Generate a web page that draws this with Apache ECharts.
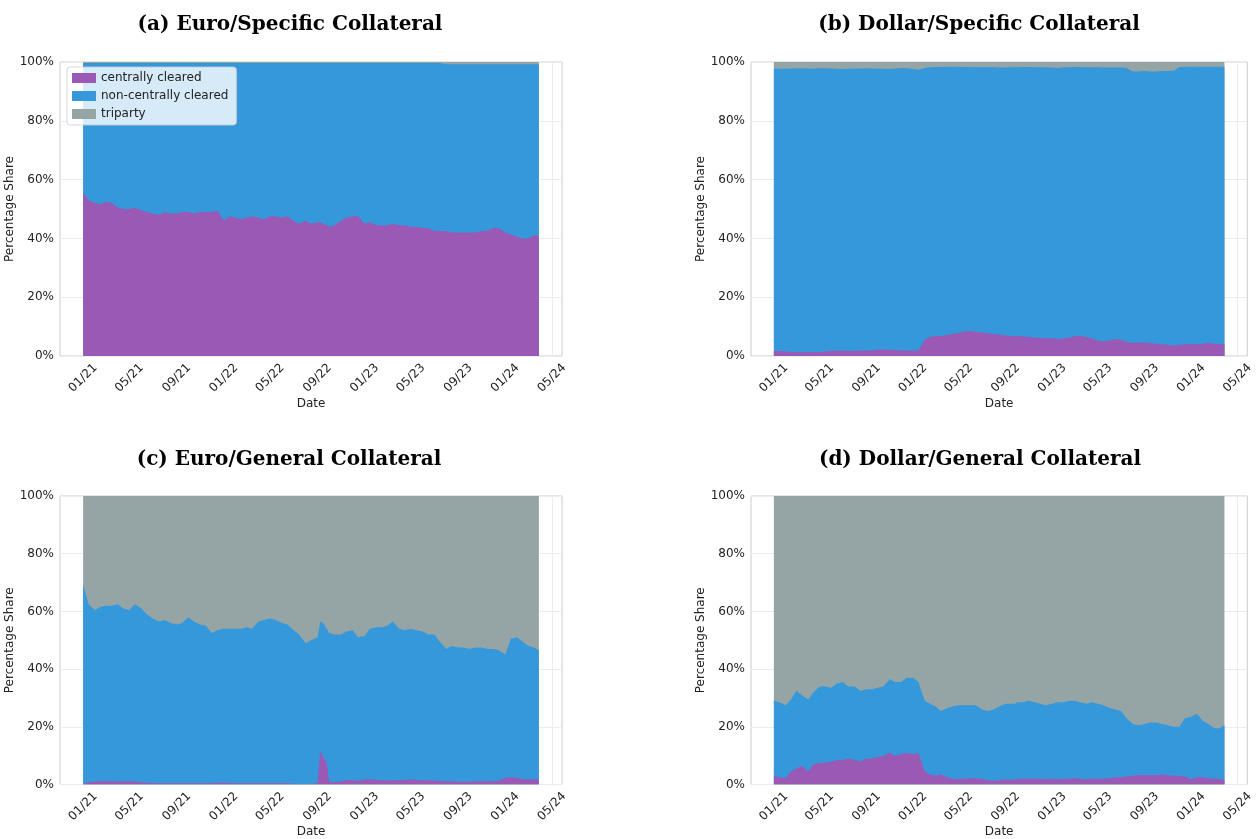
<!DOCTYPE html>
<html>
<head>
<meta charset="utf-8">
<script src="https://cdn.jsdelivr.net/npm/echarts@6/dist/echarts.min.js"></script>
<style>
  html, body { margin: 0; padding: 0; background: #fff; }
  #chart { width: 1256px; height: 839px; }
</style>
</head>
<body>
<div id="chart"></div>
<script>
// semi-monthly sample dates, shared by all four panels
const dates = [
  '2021-01-01','2021-01-15','2021-02-01','2021-02-15','2021-03-01','2021-03-15','2021-04-01','2021-04-15',
  '2021-05-01','2021-05-15','2021-06-01','2021-06-15','2021-07-01','2021-07-15','2021-08-01','2021-08-15',
  '2021-09-01','2021-09-15','2021-10-01','2021-10-15','2021-11-01','2021-11-15','2021-12-01','2021-12-15',
  '2022-01-01','2022-01-15','2022-02-01','2022-02-15','2022-03-01','2022-03-15','2022-04-01','2022-04-15',
  '2022-05-01','2022-05-15','2022-06-01','2022-06-15','2022-07-01','2022-07-15','2022-08-01','2022-08-15',
  '2022-09-01','2022-09-08','2022-09-15','2022-09-25','2022-10-01','2022-10-15','2022-11-01','2022-11-15',
  '2022-12-01','2022-12-15',
  '2023-01-01','2023-01-15','2023-02-01','2023-02-15','2023-03-01','2023-03-15','2023-04-01','2023-04-15',
  '2023-05-01','2023-05-15','2023-06-01','2023-06-15','2023-07-01','2023-07-15','2023-08-01','2023-08-15',
  '2023-09-01','2023-09-15','2023-10-01','2023-10-15','2023-11-01','2023-11-15','2023-12-01','2023-12-15',
  '2024-01-01','2024-01-15','2024-02-01','2024-02-15','2024-03-01','2024-03-15','2024-03-28'
]

const tickDates = ['2021-01-01','2021-05-01','2021-09-01','2022-01-01','2022-05-01','2022-09-01',
  '2023-01-01','2023-05-01','2023-09-01','2024-01-01','2024-05-01']
const tickLabels = ['01/21','05/21','09/21','01/22','05/22','09/22','01/23','05/23','09/23','01/24','05/24']

const seriesNames = ['centrally cleared', 'non-centrally cleared', 'triparty']
const titles = ['(a) Euro/Specific Collateral', '(b) Dollar/Specific Collateral',
  '(c) Euro/General Collateral', '(d) Dollar/General Collateral']

// cumulative shares (%):
//   *CC  = top of the purple band (centrally cleared)
//   *Top = top of the blue band (centrally + non-centrally cleared); triparty fills the rest up to 100%
const euroSpecCC = [
  55.5,53,52,51.5,52.5,52,50.5,50,50,50.5,49.5,49,48.5,48,49,48.5,48.5,49,49,48.5,49,49,49,49.5,
  46,47.5,47,46.5,47,47.5,47,46.5,47.5,47.5,47,47.5,46,45,46,45,45.5,45.5,45,44.5,44,44.5,46,47,47.5,47.5,
  45,45.5,44.5,44.5,44.5,45,44.5,44.5,44,44,43.5,43.5,42.5,42.5,42.5,42,42,42,42,42,42.5,42.5,43.5,43.5,
  42,41.5,40.5,40,40,41,41
]
const euroSpecTop = [
  99.7,99.7,99.7,99.7,99.7,99.7,99.7,99.7,99.7,99.7,99.7,99.7,99.7,99.7,99.7,99.7,99.7,99.7,99.7,99.7,99.7,99.7,99.7,99.7,
  99.7,99.7,99.7,99.7,99.7,99.7,99.7,99.7,99.7,99.7,99.7,99.7,99.7,99.7,99.7,99.7,99.7,99.7,99.7,99.7,99.7,99.7,99.7,99.7,99.7,99.7,
  99.7,99.7,99.7,99.7,99.7,99.7,99.7,99.7,99.7,99.7,99.7,99.7,99.7,99.7,99.2,99.2,99.2,99.2,99.2,99.2,99.2,99.2,99.2,99.2,
  99.2,99.2,99.2,99.2,99.2,99.2,99.2
]

const dollarSpecCC = [
  1.8,1.7,1.5,1.4,1.3,1.3,1.3,1.4,1.4,1.5,1.8,1.8,1.8,1.7,1.8,1.8,1.9,1.9,2.1,2.2,2.1,2.0,1.9,1.9,
  1.9,1.9,5.5,6.5,6.8,6.8,7.2,7.5,7.8,8.3,8.5,8.2,8.0,7.8,7.5,7.3,7.0,7.0,6.8,6.8,6.8,6.7,6.5,6.3,6.2,6.0,
  6.0,5.8,6.0,6.2,6.8,6.9,6.5,6.0,5.2,5.0,5.3,5.8,5.5,4.8,4.5,4.6,4.6,4.4,4.2,4.0,3.8,3.6,3.8,4.0,
  4.1,4.0,4.2,4.5,4.2,4.0,4.0
]
const dollarSpecTop = [
  97.8,97.7,97.8,97.8,97.9,97.9,97.8,97.8,97.9,97.9,97.8,97.7,97.6,97.7,97.8,97.8,97.9,97.8,97.8,97.7,97.6,97.8,98.0,97.9,
  97.6,97.4,98.0,98.2,98.3,98.3,98.4,98.4,98.3,98.3,98.3,98.2,98.2,98.2,98.2,98.1,98.1,98.1,98.2,98.2,98.2,98.3,98.3,98.2,98.2,98.2,
  98.1,98.0,98.2,98.2,98.3,98.3,98.2,98.2,98.2,98.1,98.1,98.1,98.1,98.0,96.8,96.8,96.9,96.8,96.8,96.9,96.9,97.0,98.3,98.3,
  98.4,98.4,98.4,98.3,98.4,98.4,98.4
]

const euroGenCC = [
  0.3,0.8,1.0,1.1,1.1,1.0,1.0,1.0,1.1,1.0,0.8,0.6,0.5,0.4,0.4,0.4,0.4,0.4,0.4,0.4,0.4,0.4,0.5,0.6,
  0.6,0.5,0.4,0.4,0.4,0.4,0.4,0.4,0.4,0.4,0.4,0.4,0.3,0.2,0.2,0.3,0.4,12.0,9.5,7.5,1.0,0.9,1.0,1.6,1.5,1.2,
  1.7,1.8,1.6,1.5,1.5,1.5,1.5,1.6,1.8,1.6,1.5,1.5,1.4,1.2,1.1,1.0,1.0,0.9,1.0,1.0,1.1,1.1,1.2,1.3,
  2.3,2.5,2.3,1.8,1.8,1.8,1.7
]
const euroGenTop = [
  69.5,62.5,60.5,61.5,62,62,62.5,61,60.5,62.5,61,59,57.5,56.5,57,56,55.5,56,58,56.5,55.5,55,52.5,53.5,
  54,54,54,54,54.5,54,56.5,57,57.5,57,56,55.5,53.5,52,49,50,51,56.5,56,54,52.5,52,52,53,53.5,51,
  51.5,54,54.5,54.5,55,56.5,54,53.5,54,53.5,53,52,52,49.5,47,48,47.5,47.5,47,47.5,47.5,47,47,46.5,
  45,50.5,51,49.5,48,47.5,46.5
]

const dollarGenCC = [
  3.0,2.5,2.2,4.5,5.5,6.5,4.5,7.0,7.5,7.5,8.0,8.5,8.5,9.0,8.5,8.0,9.0,9.0,9.5,10.0,11.0,10.0,10.5,11.0,
  10.5,11.0,4.5,3.5,3.0,3.5,2.5,2.0,1.8,2.0,2.2,2.2,2.0,1.5,1.3,1.5,1.8,1.5,1.8,1.5,2.0,2.0,2.0,2.0,2.0,1.8,
  2.0,1.8,2.0,2.0,2.2,2.0,1.8,2.0,2.0,2.0,2.2,2.5,2.5,2.8,3.0,3.2,3.3,3.2,3.2,3.5,3.2,3.0,3.0,2.8,
  1.8,2.5,2.5,2.2,2.0,2.0,1.5
]
const dollarGenTop = [
  29,28.5,27.5,29.5,32.5,31,29.5,32,34,34,33.5,35,35.5,34,34,32.5,33,33,33.5,34,36.5,35.5,35.5,37,
  37,35.5,29,28,27,25.5,26.5,27,27.5,27.5,27.5,27.5,26,25.5,26,27,28,28,28,28,28.5,28.5,29,28.5,28,27.5,
  28,28.5,28.5,29,29,28.5,28,28.5,28,27.5,26.5,26,25.5,23,21,20.5,21,21.5,21.5,21,20.5,20,20,23,
  23.5,24.5,22,21,19.5,19.5,20.5
]

const colors = ['#9b59b6', '#3498db', '#95a5a6']
const panels = [
  { cc: euroSpecCC, top: euroSpecTop, left: 60, top0: 62, titleX: 290, titleY: 25 },
  { cc: dollarSpecCC, top: dollarSpecTop, left: 751, top0: 62, titleX: 979, titleY: 25 },
  { cc: euroGenCC, top: euroGenTop, left: 60, top0: 496, titleX: 289, titleY: 460 },
  { cc: dollarGenCC, top: dollarGenTop, left: 751, top0: 496, titleX: 980, titleY: 460 }
]

// dates -> epoch ms, x axis is a plain value axis so the custom month ticks work
const t = s => new Date(s + 'T00:00:00Z').getTime()
const tickValues = tickDates.map(t)
const labelFont = 'DejaVu Sans'

const chart = echarts.init(document.getElementById('chart'))

const grid = [], xAxis = [], yAxis = [], series = [], graphic = []
panels.forEach((p, i) => {
  grid.push({
    left: p.left, top: p.top0, width: 502, height: 294,
    show: true, borderColor: '#cccccc', borderWidth: 1, backgroundColor: 'transparent'
  })
  xAxis.push({
    type: 'value', gridIndex: i, scale: true,
    min: t('2020-11-02'), max: t('2024-05-27'),
    name: 'Date', nameLocation: 'middle', nameGap: 38,
    nameTextStyle: { fontFamily: labelFont, fontSize: 12, color: '#222' },
    axisLine: { show: false },
    axisTick: { show: false, customValues: tickValues },
    axisLabel: {
      customValues: tickValues, rotate: 45, align: 'center', verticalAlign: 'middle', margin: 22,
      fontFamily: labelFont, fontSize: 12, color: '#222',
      formatter: v => tickLabels[tickValues.indexOf(v)] || ''
    },
    splitLine: { show: true, lineStyle: { color: '#ececec', width: 1 } }
  })
  yAxis.push({
    type: 'value', gridIndex: i, min: 0, max: 100, interval: 20,
    name: 'Percentage Share', nameLocation: 'middle', nameGap: 37,
    nameTextStyle: { fontFamily: labelFont, fontSize: 12, color: '#222' },
    axisLine: { show: false }, axisTick: { show: false },
    axisLabel: { formatter: '{value}%', margin: 6, fontFamily: labelFont, fontSize: 12, color: '#222' },
    splitLine: { show: true, lineStyle: { color: '#ececec', width: 1 } }
  })
  // cumulative boundaries, drawn back to front: triparty (up to 100%), non-centrally, centrally cleared
  const bounds = [
    dates.map((d, k) => [t(d), p.cc[k]]),
    dates.map((d, k) => [t(d), p.top[k]]),
    dates.map(d => [t(d), 100])
  ]
  bounds.forEach((data, j) => {
    series.push({
      name: seriesNames[j], type: 'line', xAxisIndex: i, yAxisIndex: i,
      data: data, showSymbol: false, symbol: 'none', z: 10 - j,
      lineStyle: { width: 0 }, areaStyle: { color: colors[j], opacity: 1 },
      itemStyle: { color: colors[j] }, emphasis: { disabled: true }
    })
  })
  graphic.push({
    type: 'text', x: p.titleX, y: p.titleY,
    style: {
      text: titles[i], font: 'bold 20px "DejaVu Serif"', fill: '#000',
      textAlign: 'center', textVerticalAlign: 'middle', align: 'center', verticalAlign: 'middle'
    }
  })
})

chart.setOption({
  animation: false,
  color: colors,
  grid: grid, xAxis: xAxis, yAxis: yAxis, series: series, graphic: graphic,
  legend: {
    data: seriesNames, orient: 'vertical', left: 67, top: 67, z: 50,
    itemWidth: 24, itemHeight: 10, itemGap: 6, padding: [5, 8, 5, 5],
    icon: 'rect', selectedMode: false,
    backgroundColor: 'rgba(255,255,255,0.8)', borderColor: 'rgba(204,204,204,0.8)',
    borderWidth: 1, borderRadius: 3,
    textStyle: { fontFamily: labelFont, fontSize: 12, color: '#222' }
  }
})
</script>
</body>
</html>
